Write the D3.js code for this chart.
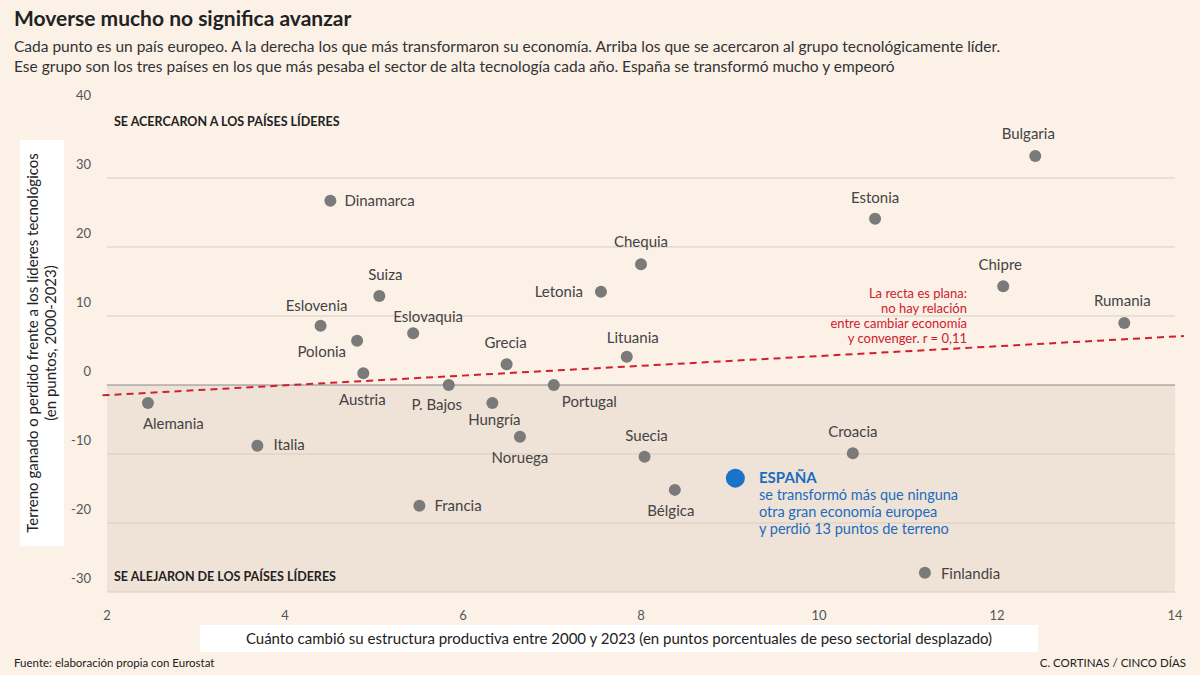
<!DOCTYPE html>
<html><head><meta charset="utf-8">
<script src="https://cdn.jsdelivr.net/npm/d3@7"></script>
<style>body{margin:0;background:#fbf1e7;font-family:Lato,"Open Sans",sans-serif}</style>
</head><body><svg id="c" width="1200" height="675"></svg>
<script>
const countries=["Alemania","Italia","Dinamarca","Eslovenia","Polonia","Austria","Suiza","Francia","Eslovaquia","P. Bajos","Hungría","Grecia","Noruega","Portugal","Letonia","Lituania","Chequia","Suecia","Bélgica","Croacia","Estonia","Finlandia","Chipre","Bulgaria","Rumania"];
const xVals=[2.46,3.69,4.51,4.40,4.81,4.88,5.06,5.51,5.44,5.84,6.33,6.49,6.64,7.02,7.55,7.84,8.0,8.04,8.38,10.38,10.63,11.19,12.07,12.43,13.43];
const yVals=[-2.6,-8.8,26.7,8.6,6.4,1.7,12.9,-17.5,7.5,0,-2.6,3.0,-7.5,0,13.5,4.1,17.5,-10.4,-15.2,-9.9,24.1,-27.2,14.3,33.2,9.0];
const labelPos=[[-5,26,"start"],[16,4,"start"],[14,5,"start"],[-4,-15,"middle"],[-11,16,"end"],[-1,32,"middle"],[6,-16,"middle"],[15,5,"start"],[15,-11,"middle"],[-12,25,"middle"],[2,22,"middle"],[-1,-16,"middle"],[0,26,"middle"],[8,22,"start"],[-18,5,"end"],[6,-14,"middle"],[0,-17,"middle"],[2,-16,"middle"],[-4,26,"middle"],[0,-16,"middle"],[0,-16,"middle"],[16,6,"start"],[-3,-16,"middle"],[-7,-17,"middle"],[-2,-17,"middle"]];
const spainX=9.06, spainY=-13.5;
const trendX=[1.95,14.1], trendY=[-1.5,7.1];
const xTicks=[2,4,6,8,10,12,14], yTicks=[-30,-20,-10,0,10,20,30,40];

const svg=d3.select("#c");
const x=d3.scaleLinear().domain([2,14]).range([107,1175]);
const y=d3.scaleLinear().domain([-30,40]).range([592,109]);

svg.append("text").attr("x",14).attr("y",26).text("Moverse mucho no significa avanzar").attr("font-size",21).attr("font-weight",700).attr("fill","#222");
svg.append("text").attr("x",14).attr("y",52).text("Cada punto es un país europeo. A la derecha los que más transformaron su economía. Arriba los que se acercaron al grupo tecnológicamente líder.").attr("font-size",15.5).attr("fill","#333");
svg.append("text").attr("x",14).attr("y",72).text("Ese grupo son los tres países en los que más pesaba el sector de alta tecnología cada año. España se transformó mucho y empeoró").attr("font-size",15.5).attr("fill","#333");

svg.append("rect").attr("x",x(2)).attr("y",y(0)).attr("width",x(14)-x(2)).attr("height",y(-30)-y(0)).attr("fill","#efe2d6");
yTicks.forEach(t=>{
 if(t!==40) svg.append("line").attr("x1",x(2)).attr("x2",x(14)).attr("y1",y(t)).attr("y2",y(t)).attr("stroke",t===0?"#888":"#d9cdc2").attr("stroke-width",1);
 svg.append("text").attr("x",91).attr("y",y(t)-9).attr("text-anchor","end").attr("font-size",13).attr("fill","#555").text(t);
});
xTicks.forEach(t=>svg.append("text").attr("x",x(t)).attr("y",620).attr("text-anchor","middle").attr("font-size",13).attr("fill","#555").text(t));

svg.append("text").attr("x",114).attr("y",126).text("SE ACERCARON A LOS PAÍSES LÍDERES").attr("font-size",12.5).attr("font-weight",700).attr("fill","#222");
svg.append("text").attr("x",114).attr("y",581).text("SE ALEJARON DE LOS PAÍSES LÍDERES").attr("font-size",12.5).attr("font-weight",700).attr("fill","#222");

svg.append("line").attr("x1",x(trendX[0])).attr("y1",y(trendY[0])).attr("x2",x(trendX[1])).attr("y2",y(trendY[1])).attr("stroke","#d0202e").attr("stroke-width",2).attr("stroke-dasharray","7,5");
["La recta es plana:","no hay relación","entre cambiar economía","y convenger. r = 0,11"].forEach((s,i)=>svg.append("text").attr("x",967).attr("y",298+i*15).attr("text-anchor","end").attr("font-size",13).attr("fill","#d0202e").text(s));

countries.forEach((c,i)=>{
 const px=x(xVals[i]),py=y(yVals[i]);
 svg.append("circle").attr("cx",px).attr("cy",py).attr("r",6).attr("fill","#7a7a7a");
 const p=labelPos[i];
 svg.append("text").attr("x",px+p[0]).attr("y",py+p[1]).attr("text-anchor",p[2]).attr("font-size",15).attr("fill","#444").text(c);
});
svg.append("circle").attr("cx",x(spainX)).attr("cy",y(spainY)).attr("r",9.5).attr("fill","#1a72c9");
svg.append("text").attr("x",759).attr("y",483).attr("font-size",15).attr("font-weight",700).attr("fill","#1a6cc0").text("ESPAÑA");
["se transformó más que ninguna","otra gran economía europea","y perdió 13 puntos de terreno"].forEach((s,i)=>svg.append("text").attr("x",759).attr("y",500+i*17).attr("font-size",14.5).attr("fill","#1a6cc0").text(s));

svg.append("rect").attr("x",200).attr("y",625).attr("width",838).attr("height",27).attr("fill","#fff");
svg.append("text").attr("x",619).attr("y",644).attr("text-anchor","middle").attr("font-size",15).attr("fill","#222").text("Cuánto cambió su estructura productiva entre 2000 y 2023 (en puntos porcentuales de peso sectorial desplazado)");
svg.append("rect").attr("x",20).attr("y",140).attr("width",44).attr("height",406).attr("fill","#fff");
const g=svg.append("g").attr("transform","translate(42,343) rotate(-90)");
g.append("text").attr("text-anchor","middle").attr("y",-4).attr("font-size",15).attr("fill","#222").text("Terreno ganado o perdido frente a los líderes tecnológicos");
g.append("text").attr("text-anchor","middle").attr("y",14).attr("font-size",15).attr("fill","#222").text("(en puntos, 2000-2023)");

svg.append("text").attr("x",14).attr("y",667).attr("font-size",11.5).attr("fill","#222").text("Fuente: elaboración propia con Eurostat");
svg.append("text").attr("x",1186).attr("y",667).attr("text-anchor","end").attr("font-size",11.5).attr("fill","#222").text("C. CORTINAS / CINCO DÍAS");
</script></body></html>
